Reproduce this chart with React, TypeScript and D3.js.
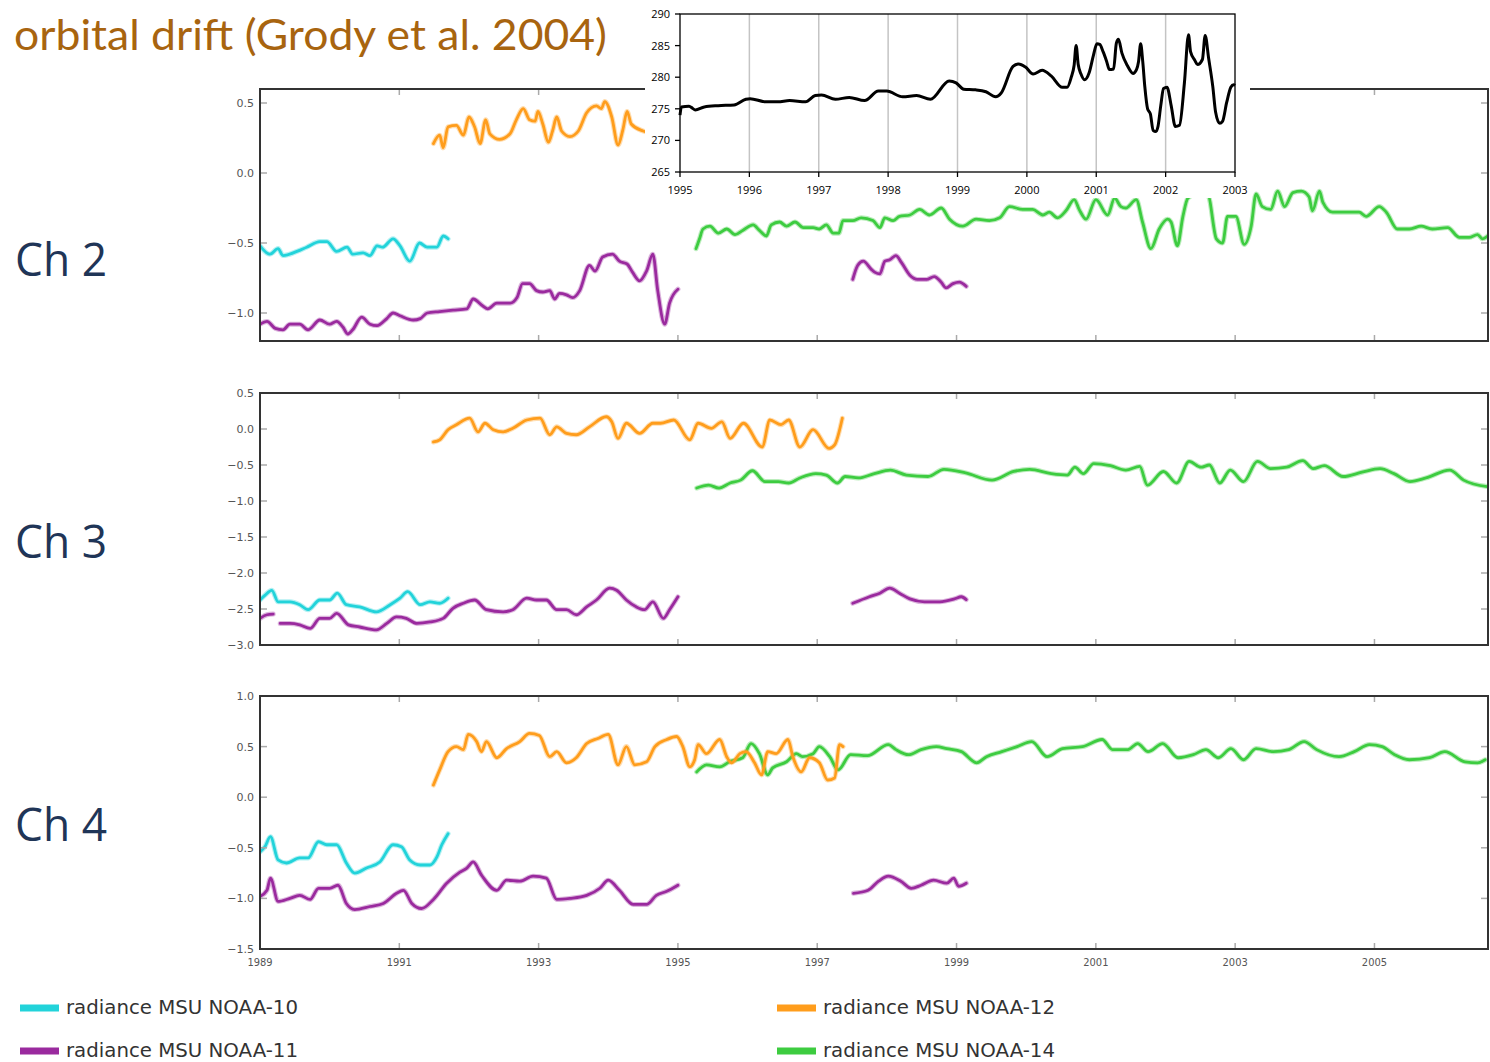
import React from 'react';
import * as d3 from 'd3';

type P = [number, number];

// ---------- Channel 2 ----------
const ch2Noaa10: P[] = [[1989.00,-0.52],[1989.14,-0.58],[1989.26,-0.54],[1989.33,-0.59],[1989.53,-0.56],[1989.67,-0.53],[1989.86,-0.49],[1989.96,-0.49],[1990.10,-0.56],[1990.25,-0.53],[1990.33,-0.58],[1990.48,-0.57],[1990.58,-0.59],[1990.68,-0.52],[1990.76,-0.53],[1990.91,-0.47],[1991.01,-0.52],[1991.15,-0.63],[1991.29,-0.50],[1991.40,-0.53],[1991.54,-0.53],[1991.63,-0.45],[1991.70,-0.47]];
const ch2Noaa11a: P[] = [[1989.00,-1.08],[1989.10,-1.06],[1989.22,-1.11],[1989.33,-1.12],[1989.43,-1.08],[1989.57,-1.08],[1989.69,-1.12],[1989.86,-1.05],[1990.00,-1.08],[1990.10,-1.06],[1990.19,-1.10],[1990.26,-1.15],[1990.33,-1.12],[1990.46,-1.03],[1990.58,-1.08],[1990.68,-1.09],[1990.82,-1.04],[1990.91,-1.00],[1991.01,-1.02],[1991.20,-1.05],[1991.30,-1.04],[1991.40,-1.00],[1991.58,-0.99],[1991.77,-0.98],[1991.97,-0.97],[1992.06,-0.90],[1992.20,-0.95],[1992.27,-0.97],[1992.40,-0.93],[1992.59,-0.93],[1992.69,-0.89],[1992.77,-0.79],[1992.87,-0.79],[1992.97,-0.84],[1993.06,-0.85],[1993.16,-0.84],[1993.23,-0.90],[1993.30,-0.86],[1993.40,-0.87],[1993.49,-0.89],[1993.59,-0.84],[1993.73,-0.66],[1993.81,-0.70],[1993.92,-0.60],[1994.06,-0.58],[1994.16,-0.63],[1994.27,-0.65],[1994.35,-0.71],[1994.45,-0.77],[1994.55,-0.70],[1994.64,-0.58],[1994.71,-0.84],[1994.81,-1.08],[1994.88,-0.93],[1995.00,-0.83]];
const ch2Noaa11b: P[] = [[1997.51,-0.76],[1997.58,-0.66],[1997.66,-0.63],[1997.78,-0.69],[1997.83,-0.71],[1997.90,-0.72],[1997.97,-0.63],[1998.04,-0.62],[1998.13,-0.59],[1998.21,-0.64],[1998.33,-0.73],[1998.44,-0.76],[1998.57,-0.76],[1998.68,-0.74],[1998.78,-0.78],[1998.85,-0.82],[1998.95,-0.79],[1999.04,-0.78],[1999.14,-0.81]];
const ch2Noaa12: P[] = [[1991.49,0.21],[1991.58,0.27],[1991.63,0.18],[1991.70,0.33],[1991.82,0.34],[1991.92,0.27],[1992.00,0.40],[1992.08,0.33],[1992.16,0.21],[1992.24,0.38],[1992.30,0.28],[1992.44,0.24],[1992.59,0.28],[1992.68,0.38],[1992.78,0.46],[1992.87,0.38],[1992.95,0.37],[1992.99,0.44],[1993.06,0.35],[1993.14,0.22],[1993.20,0.30],[1993.26,0.40],[1993.33,0.30],[1993.45,0.26],[1993.57,0.30],[1993.69,0.43],[1993.83,0.48],[1993.90,0.46],[1993.95,0.51],[1994.05,0.40],[1994.14,0.20],[1994.21,0.31],[1994.27,0.44],[1994.33,0.35],[1994.50,0.30],[1994.65,0.28]];
const ch2Noaa14: P[] = [[1995.26,-0.54],[1995.31,-0.47],[1995.36,-0.40],[1995.46,-0.38],[1995.58,-0.43],[1995.70,-0.40],[1995.82,-0.44],[1995.93,-0.41],[1996.08,-0.37],[1996.17,-0.41],[1996.27,-0.45],[1996.34,-0.37],[1996.46,-0.35],[1996.56,-0.38],[1996.68,-0.35],[1996.80,-0.39],[1996.94,-0.39],[1997.03,-0.40],[1997.13,-0.37],[1997.23,-0.43],[1997.31,-0.43],[1997.37,-0.34],[1997.51,-0.34],[1997.63,-0.32],[1997.80,-0.34],[1997.90,-0.39],[1997.97,-0.32],[1998.09,-0.34],[1998.18,-0.31],[1998.33,-0.30],[1998.47,-0.26],[1998.61,-0.30],[1998.78,-0.25],[1998.90,-0.33],[1999.09,-0.38],[1999.28,-0.33],[1999.47,-0.34],[1999.62,-0.32],[1999.76,-0.24],[1999.95,-0.26],[2000.09,-0.26],[2000.24,-0.30],[2000.33,-0.28],[2000.45,-0.32],[2000.57,-0.27],[2000.69,-0.19],[2000.76,-0.26],[2000.86,-0.33],[2001.00,-0.19],[2001.17,-0.30],[2001.27,-0.18],[2001.36,-0.24],[2001.43,-0.25],[2001.58,-0.19],[2001.67,-0.35],[2001.79,-0.54],[2001.91,-0.40],[2002.03,-0.33],[2002.08,-0.35],[2002.17,-0.52],[2002.25,-0.31],[2002.32,-0.18],[2002.44,-0.15],[2002.61,-0.16],[2002.73,-0.47],[2002.82,-0.50],[2002.89,-0.31],[2003.01,-0.31],[2003.13,-0.51],[2003.23,-0.38],[2003.30,-0.15],[2003.39,-0.24],[2003.51,-0.26],[2003.61,-0.13],[2003.71,-0.24],[2003.83,-0.14],[2003.95,-0.13],[2004.06,-0.17],[2004.11,-0.27],[2004.21,-0.13],[2004.26,-0.21],[2004.40,-0.28],[2004.59,-0.28],[2004.78,-0.28],[2004.88,-0.31],[2005.07,-0.24],[2005.17,-0.28],[2005.33,-0.40],[2005.50,-0.40],[2005.67,-0.38],[2005.83,-0.40],[2006.05,-0.39],[2006.22,-0.46],[2006.36,-0.46],[2006.48,-0.44],[2006.55,-0.47],[2006.65,-0.44]];

// ---------- Channel 3 ----------
const ch3Noaa10: P[] = [[1989.00,-2.375],[1989.07,-2.31],[1989.17,-2.24],[1989.26,-2.40],[1989.43,-2.40],[1989.57,-2.44],[1989.69,-2.51],[1989.86,-2.375],[1990.00,-2.375],[1990.11,-2.28],[1990.24,-2.44],[1990.43,-2.47],[1990.67,-2.54],[1990.87,-2.44],[1991.01,-2.35],[1991.12,-2.26],[1991.30,-2.44],[1991.44,-2.40],[1991.58,-2.42],[1991.70,-2.35]];
const ch3Noaa11a: P[] = [[1989.00,-2.63],[1989.10,-2.58],[1989.19,-2.57]];
const ch3Noaa11b: P[] = [[1989.29,-2.70],[1989.43,-2.70],[1989.57,-2.72],[1989.72,-2.77],[1989.86,-2.63],[1990.00,-2.63],[1990.10,-2.56],[1990.27,-2.72],[1990.43,-2.75],[1990.67,-2.79],[1990.82,-2.70],[1990.96,-2.61],[1991.10,-2.63],[1991.25,-2.70],[1991.44,-2.68],[1991.63,-2.63],[1991.77,-2.49],[1991.92,-2.42],[1992.08,-2.375],[1992.25,-2.51],[1992.49,-2.54],[1992.63,-2.51],[1992.83,-2.35],[1992.97,-2.375],[1993.11,-2.375],[1993.26,-2.51],[1993.40,-2.51],[1993.54,-2.58],[1993.69,-2.47],[1993.83,-2.375],[1994.02,-2.21],[1994.12,-2.24],[1994.26,-2.375],[1994.40,-2.47],[1994.52,-2.51],[1994.64,-2.40],[1994.79,-2.63],[1994.88,-2.51],[1995.00,-2.33]];
const ch3Noaa11c: P[] = [[1997.51,-2.42],[1997.75,-2.33],[1997.90,-2.28],[1998.04,-2.21],[1998.18,-2.28],[1998.33,-2.36],[1998.54,-2.40],[1998.76,-2.40],[1998.97,-2.36],[1999.07,-2.33],[1999.14,-2.37]];
const ch3Noaa12: P[] = [[1991.49,-0.18],[1991.58,-0.15],[1991.70,-0.01],[1991.82,0.06],[1992.01,0.15],[1992.13,-0.04],[1992.23,0.08],[1992.35,-0.01],[1992.49,-0.04],[1992.63,0.01],[1992.83,0.125],[1993.02,0.15],[1993.16,-0.08],[1993.26,0.03],[1993.40,-0.06],[1993.54,-0.08],[1993.73,0.03],[1993.97,0.17],[1994.05,0.10],[1994.14,-0.13],[1994.26,0.08],[1994.45,-0.06],[1994.64,0.08],[1994.75,0.08],[1994.94,0.125],[1995.17,-0.15],[1995.29,0.08],[1995.48,0.01],[1995.63,0.10],[1995.75,-0.13],[1995.94,0.08],[1996.21,-0.25],[1996.32,0.125],[1996.48,0.06],[1996.59,0.125],[1996.75,-0.25],[1996.94,-0.01],[1997.17,-0.27],[1997.25,-0.22],[1997.36,0.15]];
const ch3Noaa14: P[] = [[1995.27,-0.82],[1995.44,-0.78],[1995.59,-0.82],[1995.75,-0.75],[1995.90,-0.71],[1996.07,-0.58],[1996.25,-0.73],[1996.44,-0.73],[1996.59,-0.75],[1996.75,-0.68],[1996.98,-0.62],[1997.13,-0.64],[1997.29,-0.75],[1997.40,-0.66],[1997.59,-0.68],[1997.82,-0.62],[1998.05,-0.57],[1998.28,-0.64],[1998.59,-0.66],[1998.82,-0.56],[1999.13,-0.61],[1999.51,-0.71],[1999.82,-0.59],[2000.05,-0.56],[2000.36,-0.62],[2000.59,-0.64],[2000.70,-0.53],[2000.82,-0.62],[2000.97,-0.48],[2001.21,-0.51],[2001.43,-0.57],[2001.63,-0.52],[2001.74,-0.78],[2001.97,-0.59],[2002.16,-0.75],[2002.34,-0.45],[2002.51,-0.53],[2002.63,-0.50],[2002.78,-0.75],[2002.93,-0.57],[2003.12,-0.73],[2003.32,-0.45],[2003.51,-0.55],[2003.74,-0.53],[2003.97,-0.44],[2004.12,-0.55],[2004.28,-0.51],[2004.55,-0.66],[2004.82,-0.60],[2005.08,-0.55],[2005.28,-0.62],[2005.51,-0.73],[2005.74,-0.68],[2006.08,-0.57],[2006.28,-0.71],[2006.62,-0.80]];

// ---------- Channel 4 ----------
const ch4Noaa10: P[] = [[1989.00,-0.54],[1989.07,-0.49],[1989.15,-0.39],[1989.26,-0.62],[1989.38,-0.65],[1989.57,-0.60],[1989.69,-0.60],[1989.84,-0.44],[1989.96,-0.47],[1990.10,-0.47],[1990.24,-0.65],[1990.36,-0.75],[1990.53,-0.70],[1990.72,-0.64],[1990.91,-0.47],[1991.03,-0.49],[1991.15,-0.62],[1991.30,-0.67],[1991.44,-0.67],[1991.54,-0.59],[1991.61,-0.47],[1991.70,-0.36]];
const ch4Noaa11a: P[] = [[1989.00,-0.98],[1989.10,-0.92],[1989.15,-0.80],[1989.26,-1.03],[1989.43,-1.00],[1989.57,-0.97],[1989.72,-1.01],[1989.84,-0.90],[1990.00,-0.90],[1990.12,-0.87],[1990.24,-1.05],[1990.36,-1.11],[1990.58,-1.08],[1990.77,-1.05],[1990.96,-0.95],[1991.06,-0.92],[1991.18,-1.05],[1991.32,-1.10],[1991.49,-1.01],[1991.68,-0.85],[1991.87,-0.74],[1991.97,-0.70],[1992.06,-0.64],[1992.18,-0.77],[1992.40,-0.92],[1992.54,-0.82],[1992.73,-0.83],[1992.92,-0.78],[1993.11,-0.80],[1993.26,-1.01],[1993.45,-1.00],[1993.69,-0.97],[1993.88,-0.90],[1994.00,-0.82],[1994.16,-0.92],[1994.36,-1.06],[1994.55,-1.06],[1994.69,-0.97],[1994.84,-0.93],[1995.00,-0.87]];
const ch4Noaa11b: P[] = [[1997.52,-0.95],[1997.73,-0.92],[1997.88,-0.83],[1998.02,-0.78],[1998.20,-0.83],[1998.35,-0.90],[1998.49,-0.87],[1998.67,-0.82],[1998.86,-0.85],[1998.96,-0.80],[1999.03,-0.88],[1999.14,-0.85]];
const ch4Noaa12: P[] = [[1991.49,0.12],[1991.58,0.27],[1991.70,0.45],[1991.82,0.50],[1991.92,0.47],[1991.99,0.62],[1992.11,0.55],[1992.18,0.45],[1992.25,0.55],[1992.40,0.39],[1992.54,0.48],[1992.73,0.55],[1992.87,0.63],[1993.01,0.61],[1993.16,0.40],[1993.26,0.45],[1993.40,0.34],[1993.54,0.39],[1993.69,0.53],[1993.85,0.58],[1994.00,0.62],[1994.14,0.32],[1994.26,0.50],[1994.38,0.32],[1994.55,0.35],[1994.67,0.50],[1994.84,0.57],[1994.98,0.60],[1995.07,0.50],[1995.17,0.30],[1995.24,0.37],[1995.29,0.52],[1995.41,0.43],[1995.60,0.57],[1995.70,0.40],[1995.77,0.34],[1995.89,0.43],[1995.98,0.45],[1996.10,0.34],[1996.20,0.22],[1996.29,0.45],[1996.41,0.43],[1996.58,0.57],[1996.65,0.40],[1996.77,0.25],[1996.89,0.39],[1997.03,0.34],[1997.15,0.17],[1997.25,0.19],[1997.32,0.52],[1997.37,0.50]];
const ch4Noaa14: P[] = [[1995.27,0.25],[1995.41,0.32],[1995.60,0.30],[1995.74,0.35],[1995.93,0.39],[1996.05,0.53],[1996.17,0.43],[1996.29,0.22],[1996.36,0.29],[1996.56,0.35],[1996.70,0.43],[1996.79,0.40],[1996.94,0.43],[1997.03,0.50],[1997.18,0.40],[1997.30,0.27],[1997.48,0.42],[1997.72,0.41],[1998.02,0.52],[1998.13,0.47],[1998.31,0.42],[1998.49,0.47],[1998.71,0.50],[1998.86,0.48],[1999.07,0.45],[1999.29,0.34],[1999.43,0.40],[1999.65,0.45],[1999.87,0.50],[2000.08,0.55],[2000.30,0.40],[2000.52,0.48],[2000.81,0.50],[2001.09,0.57],[2001.24,0.47],[2001.46,0.47],[2001.60,0.53],[2001.75,0.45],[2001.96,0.53],[2002.18,0.39],[2002.40,0.42],[2002.58,0.47],[2002.76,0.39],[2002.94,0.48],[2003.12,0.37],[2003.30,0.48],[2003.55,0.45],[2003.77,0.47],[2003.99,0.55],[2004.17,0.47],[2004.49,0.40],[2004.71,0.45],[2004.93,0.52],[2005.11,0.50],[2005.29,0.42],[2005.50,0.37],[2005.79,0.39],[2006.01,0.45],[2006.30,0.35],[2006.48,0.34],[2006.59,0.37]];

// ---------- Inset (Grody et al. 2004) ----------
const insetSeries: P[] = [[1995.00,274.0],[1995.02,275.3],[1995.13,275.4],[1995.18,275.1],[1995.22,274.8],[1995.35,275.3],[1995.55,275.5],[1995.78,275.6],[1995.95,276.5],[1996.01,276.6],[1996.24,276.1],[1996.41,276.1],[1996.58,276.3],[1996.81,276.1],[1996.95,277.1],[1997.04,277.2],[1997.24,276.5],[1997.44,276.8],[1997.66,276.3],[1997.86,277.8],[1997.98,277.8],[1998.21,276.9],[1998.41,277.1],[1998.61,276.5],[1998.88,279.4],[1998.98,279.1],[1999.09,278.1],[1999.26,278.0],[1999.41,277.7],[1999.55,276.9],[1999.63,277.5],[1999.80,281.7],[1999.88,282.1],[1999.98,281.6],[2000.09,280.5],[2000.22,281.1],[2000.35,280.2],[2000.51,278.4],[2000.58,278.4],[2000.64,280.0],[2000.68,281.8],[2000.71,285.0],[2000.74,282.0],[2000.78,280.5],[2000.83,279.6],[2000.90,280.8],[2000.96,283.5],[2001.01,285.3],[2001.05,285.2],[2001.10,284.0],[2001.15,282.5],[2001.19,281.2],[2001.25,281.3],[2001.29,285.4],[2001.32,286.0],[2001.37,283.8],[2001.45,281.8],[2001.53,280.6],[2001.58,281.2],[2001.61,282.5],[2001.64,285.3],[2001.67,282.5],[2001.70,278.5],[2001.74,275.0],[2001.78,274.2],[2001.82,271.6],[2001.86,271.4],[2001.89,272.2],[2001.93,275.5],[2001.97,278.2],[2002.02,278.4],[2002.08,275.5],[2002.14,272.2],[2002.20,272.4],[2002.27,279.0],[2002.33,286.7],[2002.36,284.0],[2002.42,282.7],[2002.46,282.0],[2002.53,282.8],[2002.57,286.6],[2002.62,283.0],[2002.68,278.5],[2002.72,274.5],[2002.78,272.7],[2002.82,273.0],[2002.88,276.0],[2002.94,278.4],[2002.98,278.8],[2003.00,278.7]];

const xTickYears = [1989, 1991, 1993, 1995, 1997, 1999, 2001, 2003, 2005];
const insetYears = [1995, 1996, 1997, 1998, 1999, 2000, 2001, 2002, 2003];
const insetValueTicks = [265, 270, 275, 280, 285, 290];
const ch2Ticks = [-1.0, -0.5, 0.0, 0.5];
const ch3Ticks = [-3.0, -2.5, -2.0, -1.5, -1.0, -0.5, 0.0, 0.5];
const ch4Ticks = [-1.5, -1.0, -0.5, 0.0, 0.5, 1.0];

const legendItems = ['radiance MSU NOAA-10', 'radiance MSU NOAA-11', 'radiance MSU NOAA-12', 'radiance MSU NOAA-14'];

const C10 = '#22d3da';
const C11 = '#9a2a9e';
const C12 = '#ff9d1c';
const C14 = '#3dcc40';
const legendColors = [C10, C11, C12, C14];

const panels = [
  { label: 'Ch 2', top: 89, bottom: 341, domain: [-1.2, 0.6], ticks: ch2Ticks, labelY: 276,
    series: [ { c: C10, d: [ch2Noaa10] }, { c: C11, d: [ch2Noaa11a, ch2Noaa11b] }, { c: C12, d: [ch2Noaa12] }, { c: C14, d: [ch2Noaa14] } ] },
  { label: 'Ch 3', top: 393, bottom: 645, domain: [-3.0, 0.5], ticks: ch3Ticks, labelY: 558,
    series: [ { c: C10, d: [ch3Noaa10] }, { c: C11, d: [ch3Noaa11a, ch3Noaa11b, ch3Noaa11c] }, { c: C12, d: [ch3Noaa12] }, { c: C14, d: [ch3Noaa14] } ] },
  { label: 'Ch 4', top: 696, bottom: 949, domain: [-1.5, 1.0], ticks: ch4Ticks, labelY: 841,
    series: [ { c: C10, d: [ch4Noaa10] }, { c: C11, d: [ch4Noaa11a, ch4Noaa11b] }, { c: C14, d: [ch4Noaa14] }, { c: C12, d: [ch4Noaa12] } ] },
];

const X0 = 260, X1 = 1488;
const x = d3.scaleLinear().domain([1989, 2006.63]).range([X0, X1]);
const fmt = d3.format('.1f');

function Panel({ p, idx }: { p: typeof panels[0]; idx: number }) {
  const y = d3.scaleLinear().domain(p.domain).range([p.bottom, p.top]);
  const line = d3.line<P>().x(d => x(d[0])).y(d => y(d[1])).curve(d3.curveMonotoneX);
  const clipId = `clip${idx}`;
  return (
    <g>
      <defs>
        <clipPath id={clipId}>
          <rect x={X0} y={p.top} width={X1 - X0} height={p.bottom - p.top} />
        </clipPath>
      </defs>
      <g clipPath={`url(#${clipId})`}>
        {p.series.map((s, i) => s.d.map((seg, j) => (
          <g key={`${i}-${j}`}>
            <path d={line(seg) || ''} fill="none" stroke={s.c} strokeOpacity={0.35} strokeWidth={5} strokeLinejoin="round" strokeLinecap="round" />
            <path d={line(seg) || ''} fill="none" stroke={s.c} strokeWidth={2.8} strokeLinejoin="round" strokeLinecap="round" />
          </g>
        )))}
      </g>
      {p.ticks.map(t => (
        <g key={t}>
          <line x1={X0} x2={X0 + 7} y1={y(t)} y2={y(t)} stroke="#aaa" strokeWidth={1.5} />
          <line x1={X1 - 7} x2={X1} y1={y(t)} y2={y(t)} stroke="#aaa" strokeWidth={1.5} />
          <text x={254} y={y(t) + 4} fontSize={11} fill="#555" textAnchor="end" fontFamily="DejaVu Sans, sans-serif">{fmt(t)}</text>
        </g>
      ))}
      {xTickYears.map(yr => (
        <g key={yr}>
          <line x1={x(yr)} x2={x(yr)} y1={p.top} y2={p.top + 6} stroke="#aaa" strokeWidth={1.5} />
          <line x1={x(yr)} x2={x(yr)} y1={p.bottom} y2={p.bottom - 6} stroke="#aaa" strokeWidth={1.5} />
        </g>
      ))}
      <rect x={X0} y={p.top} width={X1 - X0} height={p.bottom - p.top} fill="none" stroke="#333" strokeWidth={2} />
      <text x={15} y={p.labelY} fontSize={46} fill="#1f3557" fontFamily="Open Sans, sans-serif" textLength={92} lengthAdjust="spacingAndGlyphs">{p.label}</text>
    </g>
  );
}

function Inset() {
  const ix = d3.scaleLinear().domain([1995, 2003]).range([680, 1235]);
  const iy = d3.scaleLinear().domain([265, 290]).range([172, 14]);
  const line = d3.line<P>().x(d => ix(d[0])).y(d => iy(d[1])).curve(d3.curveMonotoneX);
  return (
    <g>
      <rect x={645} y={0} width={605} height={198} fill="#fff" />
      {insetYears.slice(1, -1).map(yr => (
        <line key={yr} x1={ix(yr)} x2={ix(yr)} y1={14} y2={172} stroke="#c4c4c4" strokeWidth={1.5} />
      ))}
      <path d={line(insetSeries) || ''} fill="none" stroke="#000" strokeWidth={3} strokeLinejoin="round" />
      <rect x={680} y={14} width={555} height={158} fill="none" stroke="#000" strokeWidth={1.3} />
      {insetValueTicks.map(v => (
        <g key={v}>
          <line x1={675} x2={680} y1={iy(v)} y2={iy(v)} stroke="#000" strokeWidth={1.3} />
          <text x={670} y={iy(v) + 4} fontSize={11} textAnchor="end" fontFamily="Open Sans, sans-serif" fill="#000">{v}</text>
        </g>
      ))}
      {insetYears.map(yr => (
        <g key={yr}>
          <line x1={ix(yr)} x2={ix(yr)} y1={172} y2={177} stroke="#000" strokeWidth={1.3} />
          <text x={ix(yr)} y={194} fontSize={11} textAnchor="middle" fontFamily="Open Sans, sans-serif" fill="#000">{yr}</text>
        </g>
      ))}
    </g>
  );
}

export default function App() {
  return (
    <svg width={1490} height={1062} style={{ position: 'absolute', left: 0, top: 0, background: '#fff' }}>
      <rect x={0} y={0} width={1490} height={1062} fill="#fff" />
      {panels.map((p, i) => <Panel key={i} p={p} idx={i} />)}
      {xTickYears.map(yr => (
        <text key={yr} x={x(yr)} y={966} fontSize={11} fill="#555" textAnchor="middle" fontFamily="DejaVu Sans, sans-serif" fontStretch="condensed">{yr}</text>
      ))}
      <Inset />
      <text x={14} y={50} fontSize={42} fill="#a8640f" fontFamily="Lato, sans-serif" textLength={593} lengthAdjust="spacingAndGlyphs">orbital drift (Grody et al. 2004)</text>
      {legendItems.map((t, i) => {
        const col = i < 2 ? 0 : 1;
        const row = i % 2;
        const lx = col === 0 ? 20 : 777;
        const ly = row === 0 ? 1008 : 1051;
        return (
          <g key={t}>
            <rect x={lx} y={ly - 3.5} width={39} height={7} fill={legendColors[i]} />
            <text x={lx + 46} y={ly + 6} fontSize={19} fill="#333" fontFamily="DejaVu Sans, sans-serif" fontStretch="condensed" textLength={232} lengthAdjust="spacingAndGlyphs">{t}</text>
          </g>
        );
      })}
    </svg>
  );
}
